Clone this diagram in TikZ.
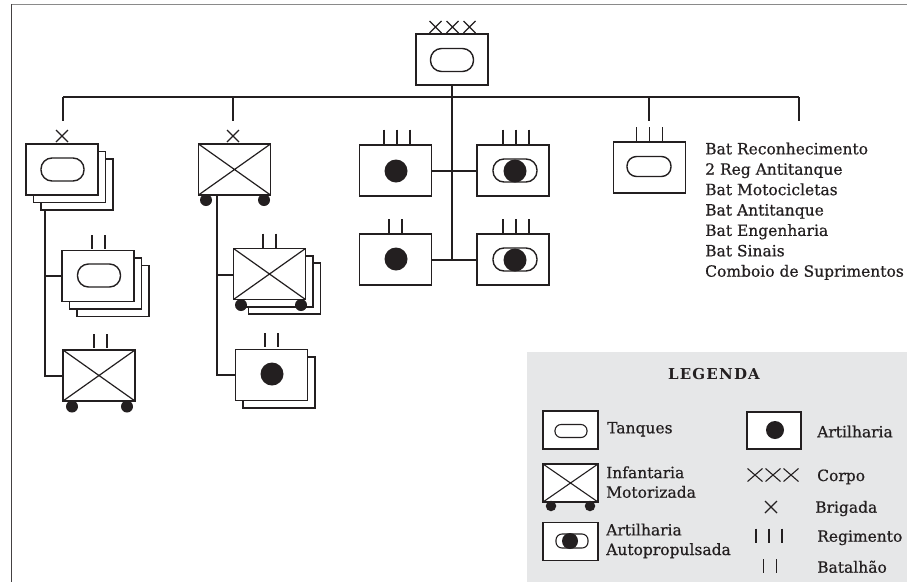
\documentclass[tikz,border=0pt]{standalone}
\usepackage{fontspec}
\setmainfont{DejaVu Serif}[FakeBold=0.6]
\newfontfamily\legfont[LetterSpace=8]{DejaVu Serif}
\definecolor{ink}{HTML}{231F20}
\definecolor{leggray}{HTML}{E6E7E8}
\definecolor{framegray}{HTML}{8A8A8A}
\begin{document}
\begin{tikzpicture}[x=1pt,y=-1pt,
  ubox/.style={draw=ink,line width=1.6pt,fill=white,minimum width=72pt,minimum height=51pt,inner sep=0pt,outer sep=0pt},
  lbox/.style={draw=ink,line width=1.1pt,fill=white,minimum width=55pt,minimum height=38pt,inner sep=0pt,outer sep=0pt},
  tankoval/.style={draw=ink,line width=1.4pt,rounded corners=11pt,minimum width=43pt,minimum height=23pt,inner sep=0pt},
  ltankoval/.style={draw=ink,line width=1.1pt,rounded corners=6pt,minimum width=32pt,minimum height=13pt,inner sep=0pt},
  dotc/.style={circle,fill=ink,minimum size=23pt,inner sep=0pt},
  ldotc/.style={circle,fill=ink,minimum size=18pt,inner sep=0pt},
  wheel/.style={circle,fill=ink,minimum size=12pt,inner sep=0pt},
  lwheel/.style={circle,fill=ink,minimum size=10.5pt,inner sep=0pt},
  conn/.style={draw=ink,line width=1.35pt},
  xline/.style={draw=ink,line width=1.2pt},
  markln/.style={draw=ink,line width=1.1pt},
  txt/.style={font=\fontsize{15.5}{19.6}\selectfont,text=ink,inner sep=0pt,anchor=base west,align=left},
  xmark/.pic={\draw[markln] (-6,-6)--(6,6) (-6,6)--(6,-6);},
  bigxmark/.pic={\draw[markln] (-7.5,-6.5)--(7.5,6.5) (-7.5,6.5)--(7.5,-6.5);},
  bars2/.pic={\draw[markln] (-6.5,-7)--(-6.5,7) (6.5,-7)--(6.5,7);},
  bars3/.pic={\draw[markln] (-13,-7)--(-13,7) (0,-7)--(0,7) (13,-7)--(13,7);},
]
\useasboundingbox (0,0) rectangle (907,582);
% frame
\draw[framegray,line width=1.3pt] (11,4.5) -- (907,4.5);
\draw[ink!85,line width=1.3pt] (11.5,4) -- (11.5,582);

% legend background
\fill[leggray] (527,352) rectangle (907,582);

% ---------- corps ----------
\node[ubox] (corps) at (452,59.5) {};
\node[tankoval] (corpsov) at (452,60) {};
\pic at (435.5,27) {xmark};
\pic at (452.5,27) {xmark};
\pic at (469.5,27) {xmark};

% bar
\coordinate (b1) at (63,97);
\coordinate (b2) at (233,97);
\coordinate (b4) at (649,97);
\coordinate (b5) at (799,97);
\coordinate (d1) at (63,121);
\coordinate (d2) at (233,121);
\coordinate (d4) at (649,121);
\coordinate (d5) at (799,121);
\coordinate (cbot) at (452,260);
\draw[conn] (b1) -- (b5);
\draw[conn] (b1) -- (d1);
\draw[conn] (b2) -- (d2);
\draw[conn] (b4) -- (d4);
\draw[conn] (b5) -- (d5);
\draw[conn] (corps.south) -- (cbot);

% ---------- column 1 ----------
\pic at (62,136) {xmark};
\node[ubox] (bde1c) at (77,184.5) {};
\node[ubox] (bde1b) at (69.5,177) {};
\node[ubox] (bde1) at (62,169.5) {};
\node[tankoval] (bde1ov) at (62.5,169.5) {};

\coordinate (c1a) at (45,210);
\draw[conn] (c1a) |- (98,276) coordinate (tb1w);
\draw[conn] (c1a) |- (99,376) coordinate (ib1w);

\node[ubox] (tb1c) at (113,291) {};
\node[ubox] (tb1b) at (105.5,283.5) {};
\node[ubox] (tb1) at (98,276) {};
\node[tankoval] (tb1ov) at (99,275.5) {};
\pic at (98.5,242) {bars2};

\node[ubox] (ib1) at (99,375.5) {};
\draw[xline] (ib1.north west) -- (ib1.south east) (ib1.north east) -- (ib1.south west);
\node[wheel] (ib1w1) at (72,406.5) {};
\node[wheel] (ib1w2) at (127,406.5) {};
\pic at (100.5,341) {bars2};

% ---------- column 2 ----------
\pic at (233,136) {xmark};
\coordinate (c2a) at (217,195);
\draw[conn] (c2a) |- (269.5,275) coordinate (ib2w);
\draw[conn] (c2a) |- (271.5,375) coordinate (ab2w);

\node[ubox] (bde2) at (234.5,169.5) {};
\draw[xline] (bde2.north west) -- (bde2.south east) (bde2.north east) -- (bde2.south west);
\node[wheel] (bde2w1) at (206,200) {};
\node[wheel] (bde2w2) at (264,200) {};

\node[ubox] (ib2c) at (284.5,288.5) {};
\node[ubox] (ib2b) at (277,281.5) {};
\node[ubox] (ib2) at (269.5,274) {};
\draw[xline] (ib2.north west) -- (ib2.south east) (ib2.north east) -- (ib2.south west);
\node[wheel] (ib2w1) at (241,305) {};
\node[wheel] (ib2w2) at (301,305) {};
\pic at (269.5,240.5) {bars2};

\node[ubox] (ab2b) at (279,382.5) {};
\node[ubox] (ab2) at (271.5,375) {};
\node[dotc] (ab2dot) at (272,374) {};
\pic at (271.5,340) {bars2};

% ---------- middle group ----------
\draw[conn] (395.5,171) coordinate (a3e) -- (513,171) coordinate (s1w);
\draw[conn] (395.5,260) coordinate (a4e) -- (513,260) coordinate (s2w);

\node[ubox] (art3) at (395.5,170.5) {};
\node[dotc] (art3dot) at (396,171) {};
\pic at (397,136.5) {bars3};

\node[ubox] (sp1) at (513,170.5) {};
\node[tankoval,minimum width=44pt] (sp1ov) at (515,170.5) {};
\node[dotc] (sp1dot) at (515,171) {};
\pic at (516,136.5) {bars3};

\node[ubox] (art4) at (395.5,259.5) {};
\node[dotc] (art4dot) at (396,259) {};
\pic at (395.5,226) {bars2};

\node[ubox] (sp2) at (513,259.5) {};
\node[tankoval,minimum width=44pt] (sp2ov) at (515,259.5) {};
\node[dotc] (sp2dot) at (515,260) {};
\pic at (516,226) {bars3};

% ---------- right group ----------
\node[ubox] (trg) at (649.5,167.5) {};
\node[tankoval,minimum width=44pt,minimum height=20pt,rounded corners=9.5pt] (trgov) at (649,166.5) {};
\pic at (649.5,134) {bars3};

\node[txt,font=\fontsize{15.5}{20.4}\selectfont] (list) at (705,276.7) {Bat Reconhecimento\\2 Reg Antitanque\\Bat Motocicletas\\Bat Antitanque\\Bat Engenharia\\Bat Sinais\\Comboio de Suprimentos};

% ---------- legend ----------
\node[anchor=base,inner sep=0pt,text=ink,font=\legfont\fontsize{15}{15}\selectfont\bfseries] (legt) at (714,379.3) {LEGENDA};

\node[lbox] (ltank) at (570.5,430) {};
\node[ltankoval] (ltankov) at (571,431) {};
\node[txt] (lttank) at (607,433.3) {Tanques};

\node[lbox] (linf) at (570.5,483) {};
\draw[markln] (linf.north west) -- (linf.south east) (linf.north east) -- (linf.south west);
\node[lwheel] (linfw1) at (551,506) {};
\node[lwheel] (linfw2) at (590,506) {};
\node[txt] (ltinf) at (606,497.7) {Infantaria\\Motorizada};

\node[lbox] (lsp) at (570.5,541.5) {};
\node[ltankoval,minimum height=14pt] (lspov) at (572,541) {};
\node[ldotc,minimum size=16pt] (lspdot) at (570,541) {};
\node[txt] (ltsp) at (606,555) {Artilharia\\Autopropulsada};

\node[lbox,minimum width=54pt,minimum height=37pt] (lart) at (774,430.5) {};
\node[ldotc] (lartdot) at (775,430) {};
\node[txt] (ltart) at (817,437.3) {Artilharia};

\pic at (755,475) {bigxmark};
\pic at (773,475) {bigxmark};
\pic at (791,475) {bigxmark};
\node[txt] (ltcorpo) at (817,481) {Corpo};

\pic at (771,507) {xmark};
\node[txt] (ltbrig) at (815,512.7) {Brigada};

\pic at (769,535.5) {bars3};
\node[txt] (ltreg) at (817,541.7) {Regimento};

\pic at (770,566) {bars2};
\node[txt] (ltbat) at (817,572.7) {Batalhão};
\end{tikzpicture}
\end{document}
